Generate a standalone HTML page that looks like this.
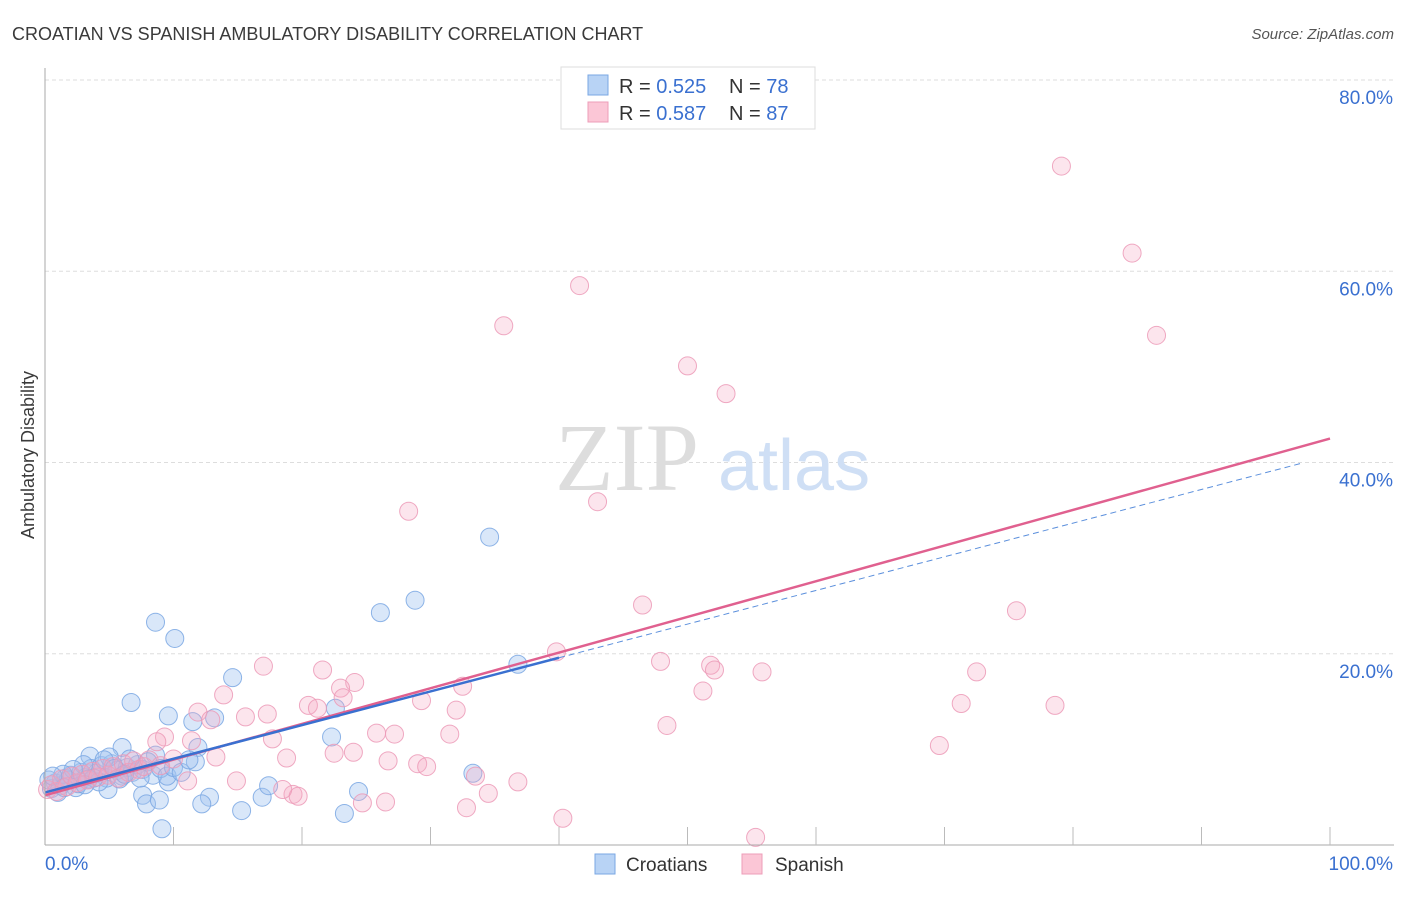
<!DOCTYPE html>
<html><head><meta charset="utf-8"><style>
body{margin:0;background:#fff;font-family:"Liberation Sans",sans-serif}
svg text{font-family:"Liberation Sans",sans-serif}
</style></head><body>
<svg id="c" width="1406" height="892" viewBox="0 0 1406 892">
<text x="12" y="40" font-size="18" fill="#3a3a3a">CROATIAN VS SPANISH AMBULATORY DISABILITY CORRELATION CHART</text>
<text x="1394" y="39" font-size="15" fill="#555" font-style="italic" text-anchor="end">Source: ZipAtlas.com</text>
<g id="grid"></g>
<text x="555" y="490" font-size="96" fill="#ddd" style="font-family:'Liberation Serif',serif">ZIP</text>
<text x="718" y="490" font-size="72" fill="#cfdff5">atlas</text>
<g id="pts"></g>
<g id="lines"></g>
<g id="axes"></g>
<text transform="translate(34,455) rotate(-90)" font-size="18" fill="#3a3a3a" text-anchor="middle">Ambulatory Disability</text>
<g>
<rect x="561" y="67" width="254" height="62" fill="#fff" stroke="#ddd"/>
<rect x="588" y="75" width="20" height="20" fill="#b8d3f5" stroke="#7aa7e3"/>
<rect x="588" y="102" width="20" height="20" fill="#fbc6d6" stroke="#ee9db8"/>
<text x="619" y="93" font-size="20" fill="#333">R = <tspan fill="#3a70d0">0.525</tspan></text>
<text x="729" y="93" font-size="20" fill="#333">N = <tspan fill="#3a70d0">78</tspan></text>
<text x="619" y="120" font-size="20" fill="#333">R = <tspan fill="#3a70d0">0.587</tspan></text>
<text x="729" y="120" font-size="20" fill="#333">N = <tspan fill="#3a70d0">87</tspan></text>
</g>
<g>
<rect x="595" y="854" width="20" height="20" fill="#b8d3f5" stroke="#7aa7e3"/>
<text x="626" y="871" font-size="19" fill="#333">Croatians</text>
<rect x="742" y="854" width="20" height="20" fill="#fbc6d6" stroke="#ee9db8"/>
<text x="775" y="871" font-size="19" fill="#333">Spanish</text>
</g>
</svg>
<script>
const yTicks=[20,40,60,80];
const yTickLabels=["20.0%","40.0%","60.0%","80.0%"];
const xEndLabels=["0.0%","100.0%"];
const croatiansX=[8.6,10.1,6.7,14.6,9.6,13.2,11.5,26.1,28.8,34.6,36.8,22.6,22.3,11.9,6.0,3.5,4.9,7.6,7.9,8.9,9.1,12.8,12.2,15.3,16.9,17.4,23.3,24.4,33.3,11.7,8.6,9.6,0.5,0.8,1.2,1.6,2.0,2.4,2.8,3.2,3.6,4.0,4.4,4.8,5.2,5.6,6.0,6.4,6.8,7.2,7.6,8.0,8.4,0.3,1.0,1.8,2.6,3.0,3.4,4.2,5.0,5.8,6.6,7.4,9.0,9.5,2.2,1.4,4.6,3.8,0.6,10.0,10.6,11.2,5.4,6.2,3.1,1.5];
const croatiansY=[23.3,21.6,14.9,17.5,13.5,13.3,12.9,24.3,25.6,32.2,18.9,14.3,11.3,10.2,10.2,9.3,5.8,5.2,4.3,4.7,1.7,5.0,4.3,3.6,5.0,6.2,3.3,5.6,7.5,8.7,9.4,6.6,5.9,6.5,6.2,7.0,7.3,6.0,7.6,7.1,8.0,7.5,8.3,7.0,8.5,7.8,7.2,8.1,7.6,8.4,7.9,8.7,7.3,6.8,5.5,6.8,6.4,8.4,6.9,6.6,9.2,6.9,9.0,7.0,8.0,7.2,7.9,7.4,8.9,7.0,7.2,8.1,7.6,8.9,8.0,7.4,6.3,6.0];
const spanishX=[79.1,84.6,86.5,41.6,35.7,50.0,53.0,28.3,43.0,46.5,75.6,39.8,47.9,51.8,52.1,55.8,72.5,51.2,71.3,78.6,48.4,69.6,17.0,21.6,24.1,23.0,32.5,13.9,20.5,21.2,23.2,11.9,17.3,15.6,12.9,9.3,11.4,8.7,17.7,25.8,27.2,31.5,32.0,29.3,22.5,24.0,18.8,13.3,26.7,29.0,29.7,33.5,36.8,34.5,32.8,26.5,24.7,19.3,19.7,18.5,14.9,11.1,40.3,55.3,0.2,0.5,0.9,1.3,1.7,2.1,2.5,2.9,3.3,3.7,4.1,4.5,4.9,5.3,5.7,6.1,6.5,6.9,7.3,7.7,8.1,9.0,10.0];
const spanishY=[71.0,61.9,53.3,58.5,54.3,50.1,47.2,34.9,35.9,25.1,24.5,20.2,19.2,18.8,18.3,18.1,18.1,16.1,14.8,14.6,12.5,10.4,18.7,18.3,17.0,16.4,16.6,15.7,14.6,14.3,15.4,13.9,13.7,13.4,13.1,11.3,10.9,10.8,11.1,11.7,11.6,11.6,14.1,15.1,9.6,9.7,9.1,9.2,8.8,8.5,8.2,7.2,6.6,5.4,3.9,4.5,4.4,5.3,5.1,5.8,6.7,6.7,2.8,0.8,5.8,6.3,5.6,6.9,6.1,7.2,6.5,7.4,6.8,7.7,7.1,8.0,7.3,8.2,7.0,8.5,7.6,8.8,7.9,8.2,8.9,8.3,9.0];
const croatiansTrend=[5.5,0.352];
const spanishTrend=[5.2,0.373];
const NS="http://www.w3.org/2000/svg";
const X0=45,X1=1330,Y0=845,Y80=80;
function sx(v){return X0+(X1-X0)*v/100;}
function sy(v){return Y0-(Y0-Y80)*v/80;}
function mk(tag,attrs,parent){const e=document.createElementNS(NS,tag);for(const k in attrs)e.setAttribute(k,attrs[k]);parent.appendChild(e);return e;}
const grid=document.getElementById('grid'),axes=document.getElementById('axes'),pts=document.getElementById('pts'),lines=document.getElementById('lines');
yTicks.forEach((t,i)=>{
 const l=mk('line',{x1:X0,x2:1394,y1:sy(t),y2:sy(t),stroke:'#ddd','stroke-dasharray':'4,3'},grid);
 
 
 const tx=mk('text',{x:1393,y:sy(t)+24,'font-size':19,fill:'#3a70d0','text-anchor':'end'},axes);
 tx.textContent=yTickLabels[i];
 
 
});
const ax=mk('line',{x1:X0,x2:X0,y1:68,y2:Y0,stroke:'#aaa'},axes);


const bx=mk('line',{x1:X0,x2:1394,y1:Y0,y2:Y0,stroke:'#aaa'},axes);


for(let k=1;k<=10;k++){
 const t=mk('line',{x1:sx(k*10),x2:sx(k*10),y1:Y0,y2:Y0-18,stroke:'#bbb'},axes);
 
 
}
[[0,'start',X0],[1,'end',1393]].forEach(([i,a,x])=>{
 const tx=mk('text',{x:x,y:870,'font-size':19,fill:'#3a70d0','text-anchor':a},axes);
 tx.textContent=xEndLabels[i];
 
 
});
function drawPts(xs,ys,fill,stroke,name){
 xs.forEach((x,i)=>{
  const c=mk('circle',{cx:sx(x),cy:sy(ys[i]),r:9,fill:fill,stroke:stroke,'stroke-width':1,'stroke-opacity':0.85},pts);
  
  
 });
}
drawPts(croatiansX,croatiansY,'rgba(160,196,240,0.4)','#7aa7e3','croatians-point');
drawPts(spanishX,spanishY,'rgba(245,170,195,0.3)','#ec9ab7','spanish-point');
function tl(tr,a,b,stroke,w,dash,name){
 const l=mk('line',{x1:sx(a),y1:sy(tr[0]+tr[1]*a),x2:sx(b),y2:sy(tr[0]+tr[1]*b),stroke:stroke,'stroke-width':w},lines);
 if(dash)l.setAttribute('stroke-dasharray',dash);
 
 
}
tl(croatiansTrend,40,97.7,'#5b8fdc',1,'6,4','croatians-trend-extension');
tl(spanishTrend,0,100,'#e0608f',2.5,null,'spanish-trend-line');
tl(croatiansTrend,0,40,'#3a70d0',2.5,null,'croatians-trend-line');
</script>
</body></html>
